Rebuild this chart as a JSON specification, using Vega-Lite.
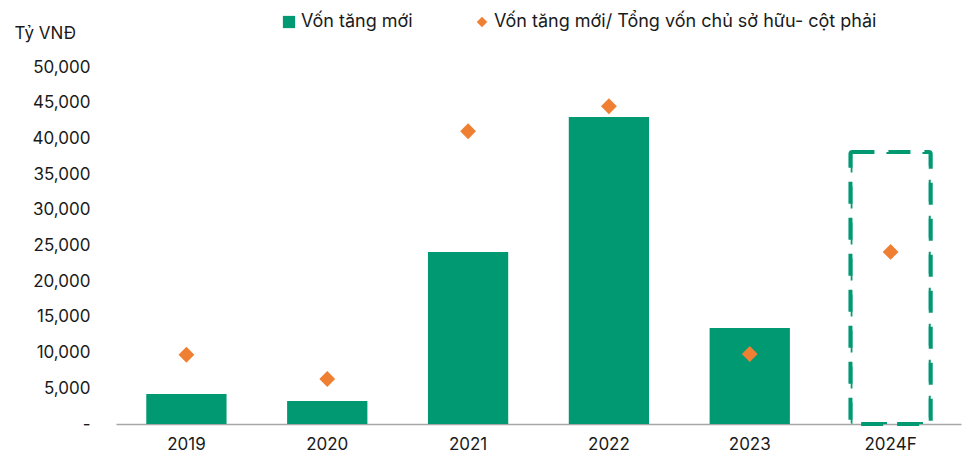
{
  "$schema": "https://vega.github.io/schema/vega-lite/v6.json",
  "width": 845,
  "height": 357,
  "autosize": {"type": "none"},
  "padding": {"left": 116, "top": 67, "right": 10, "bottom": 38},
  "background": "white",
  "config": {
    "view": {"stroke": null},
    "font": "Inter",
    "axis": {"labelFont": "Inter", "titleFont": "Inter", "labelColor": "#1a1a1a", "titleColor": "#1a1a1a"},
    "legend": {"labelFont": "Inter"}
  },
  "data": {
    "values": [
      {"year": "2019", "von": 4200, "ratio": 0.097, "series": "Vốn tăng mới", "series2": "Vốn tăng mới/ Tổng vốn chủ sở hữu- cột phải", "f": 0},
      {"year": "2020", "von": 3220, "ratio": 0.063, "series": "Vốn tăng mới", "series2": "Vốn tăng mới/ Tổng vốn chủ sở hữu- cột phải", "f": 0},
      {"year": "2021", "von": 24100, "ratio": 0.41, "series": "Vốn tăng mới", "series2": "Vốn tăng mới/ Tổng vốn chủ sở hữu- cột phải", "f": 0},
      {"year": "2022", "von": 43000, "ratio": 0.445, "series": "Vốn tăng mới", "series2": "Vốn tăng mới/ Tổng vốn chủ sở hữu- cột phải", "f": 0},
      {"year": "2023", "von": 13450, "ratio": 0.098, "series": "Vốn tăng mới", "series2": "Vốn tăng mới/ Tổng vốn chủ sở hữu- cột phải", "f": 0},
      {"year": "2024F", "von": 38100, "ratio": 0.241, "series": "Vốn tăng mới", "series2": "Vốn tăng mới/ Tổng vốn chủ sở hữu- cột phải", "f": 1}
    ]
  },
  "encoding": {
    "x": {
      "field": "year", "type": "nominal", "sort": null,
      "scale": {"paddingInner": 0.43, "paddingOuter": 0.215},
      "axis": {"title": null, "labelAngle": 0, "labelFontSize": 17, "labelPadding": 12, "ticks": false, "domainColor": "#a6a6a6", "domainWidth": 1.5, "grid": false}
    }
  },
  "layer": [
    {
      "transform": [{"filter": "datum.f == 0"}],
      "mark": {"type": "bar"},
      "encoding": {
        "y": {
          "field": "von", "type": "quantitative",
          "scale": {"domain": [0, 50000], "nice": false},
          "axis": {
            "title": "Tỷ VNĐ", "titleAngle": 0, "titleAlign": "left", "titleBaseline": "middle", "titleX": -102, "titleY": -34, "titleFontSize": 17, "titleFontWeight": "normal",
            "values": [0, 5000, 10000, 15000, 20000, 25000, 30000, 35000, 40000, 45000, 50000],
            "labelExpr": "datum.value == 0 ? '-' : format(datum.value, ',')",
            "labelFontSize": 17, "labelPadding": 26, "ticks": false, "domain": false, "grid": false
          }
        },
        "color": {
          "field": "series", "type": "nominal",
          "scale": {"domain": ["Vốn tăng mới", "Vốn tăng mới/ Tổng vốn chủ sở hữu- cột phải"], "range": ["#009972", "#ef7f32"]},
          "legend": {
            "title": null, "orient": "none", "direction": "horizontal", "legendX": 164, "legendY": -54,
            "labelFontSize": 18, "labelColor": "#1a1a1a", "labelLimit": 600, "columnPadding": 60, "symbolOffset": 0, "labelOffset": 3, "padding": 0,
            "symbolStrokeWidth": 0,
            "encode": {
              "symbols": {"update": {
                "shape": {"signal": "datum.label == 'Vốn tăng mới' ? 'square' : 'diamond'"},
                "size": {"signal": "datum.label == 'Vốn tăng mới' ? 150 : 110"}
              }}
            }
          }
        }
      }
    },
    {
      "transform": [{"filter": "datum.f == 1"}],
      "mark": {"type": "bar", "fill": null, "fillOpacity": 0, "stroke": "#009972", "strokeWidth": 4, "strokeDash": [22, 14], "cornerRadius": 2},
      "encoding": {
        "y": {"field": "von", "type": "quantitative", "scale": {"domain": [0, 50000], "nice": false}, "axis": null}
      }
    },
    {
      "mark": {"type": "point", "shape": "diamond", "filled": true, "size": 250, "opacity": 1},
      "encoding": {
        "y": {"field": "ratio", "type": "quantitative", "scale": {"domain": [0, 0.5], "nice": false}, "axis": null},
        "color": {"field": "series2", "type": "nominal"}
      }
    }
  ],
  "resolve": {"scale": {"y": "independent"}}
}
